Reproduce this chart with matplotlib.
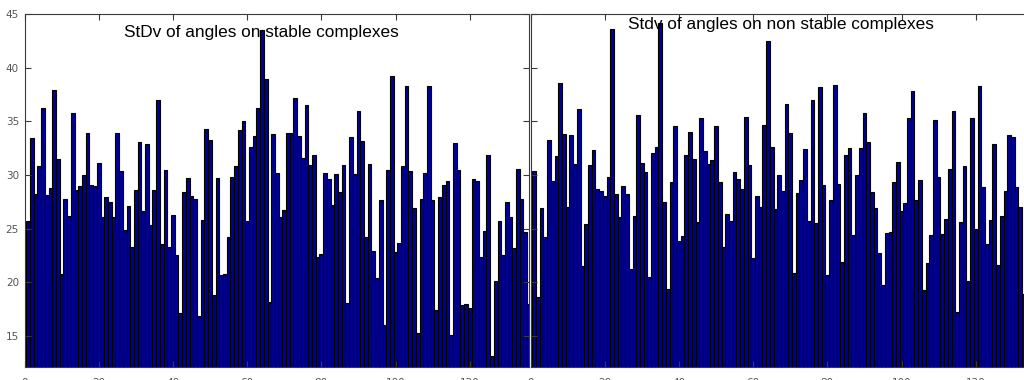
import matplotlib
matplotlib.use("Agg")
import matplotlib.pyplot as plt
import numpy as np

# Standard deviation of angles per complex
stable_std = [
    25.7, 33.4, 28.2, 30.8, 36.2, 28.1, 28.8, 37.9, 31.5, 20.8,
    27.8, 26.2, 35.8, 28.6, 29.0, 30.0, 33.9, 29.1, 29.0, 31.1,
    26.1, 27.9, 27.5, 26.1, 33.9, 30.4, 24.9, 27.1, 23.3, 28.6,
    33.1, 26.6, 32.9, 25.3, 28.6, 37.0, 23.6, 30.5, 23.3, 26.3,
    22.5, 17.1, 28.4, 29.7, 28.0, 27.8, 16.9, 25.8, 34.3, 33.3,
    18.8, 29.7, 20.7, 20.8, 24.2, 29.8, 30.8, 34.2, 35.0, 25.7,
    32.6, 33.6, 36.2, 43.5, 38.9, 18.2, 33.8, 30.2, 26.1, 26.7,
    33.9, 33.9, 37.2, 33.6, 31.6, 36.5, 30.9, 31.9, 22.4, 22.6,
    30.2, 29.6, 27.2, 30.1, 28.4, 30.9, 18.1, 33.5, 30.1, 36.0,
    33.2, 24.2, 31.0, 22.9, 20.4, 27.7, 16.0, 30.5, 39.2, 22.8,
    23.7, 30.8, 38.3, 30.4, 26.9, 15.3, 27.8, 30.2, 38.3, 27.7,
    17.4, 27.9, 29.1, 29.4, 15.1, 33.0, 30.5, 17.9, 18.0, 17.6,
    29.6, 29.4, 22.4, 24.8, 31.9, 13.1, 20.1, 25.7, 22.5, 27.5,
    26.1, 23.2, 30.6, 27.8, 24.7, 18.0,
]

nonstable_std = [
    30.4, 18.6, 26.9, 24.2, 33.3, 29.4, 31.8, 38.6, 33.8, 27.0,
    33.7, 31.0, 36.1, 21.5, 25.4, 30.9, 32.3, 28.7, 28.5, 28.0,
    29.8, 43.6, 28.2, 26.1, 29.0, 28.2, 21.2, 26.2, 35.6, 31.1,
    30.3, 20.5, 32.0, 32.6, 44.2, 27.5, 19.4, 29.3, 34.6, 23.8,
    24.3, 31.9, 34.0, 31.5, 25.6, 35.3, 32.2, 31.0, 31.4, 34.6,
    29.3, 23.3, 26.4, 25.7, 30.3, 29.6, 28.7, 35.4, 30.9, 22.3,
    28.0, 27.0, 34.7, 42.5, 32.6, 26.8, 30.0, 28.5, 36.6, 33.9,
    20.9, 28.3, 29.5, 32.4, 25.7, 37.0, 25.5, 38.2, 29.1, 20.7,
    27.7, 38.4, 29.2, 21.9, 31.9, 32.5, 24.4, 30.0, 32.5, 35.8,
    33.1, 28.4, 26.9, 22.7, 19.7, 24.6, 24.7, 29.3, 31.2, 26.6,
    27.4, 35.3, 37.8, 27.7, 29.5, 19.3, 21.8, 24.4, 35.1, 29.8,
    24.5, 25.9, 30.6, 36.0, 17.2, 25.6, 30.8, 20.1, 35.3, 25.0,
    38.3, 28.9, 23.6, 25.8, 32.9, 21.6, 26.2, 28.5, 33.7, 33.5,
    28.9, 27.0, 18.9,
]

titles = ["StDv of angles on stable complexes",
          "Stdv of angles on non stable complexes"]
x_ticks = [0, 20, 40, 60, 80, 100, 120, 140]
y_ticks = [15, 20, 25, 30, 35, 40, 45]

W, H = 1024, 380
fig = plt.figure(figsize=(W / 100, H / 100), dpi=100)
fig.patch.set_facecolor("white")

bar_face = (0.0, 0.0, 0.58)
spine_col = "#3a3a3a"
tick_col = "#555555"
px_per_unit = 3.71

ax_b, ax_t = 13.3, 366.0
# (left px, right px, data, title, title centre, y labels)
panels = [
    (24.5, 528.5, stable_std, titles[0], (261, 32), True),
    (530.5, 1035.0, nonstable_std, titles[1], (781, 25), False),
]

for left_px, right_px, data, title, (tx, ty), show_ylabels in panels:
    w_px = right_px - left_px
    ax = fig.add_axes([left_px / W, ax_b / H, w_px / W, (ax_t - ax_b) / H])
    xs = np.arange(1, len(data) + 1)
    ax.bar(xs, data, width=1.0, color=bar_face, edgecolor="black",
           linewidth=0.8, bottom=0)
    ax.set_xticks(x_ticks)
    ax.set_yticks(y_ticks)
    ax.set_xlim(0, w_px / px_per_unit)
    ax.set_ylim(12.13, 45)
    ax.tick_params(direction="in", length=4, width=0.8, colors=spine_col,
                   labelcolor=tick_col, labelsize=7.5,
                   top=True, right=show_ylabels, left=True,
                   labelleft=show_ylabels)
    ax.tick_params(axis="x", pad=8)
    ax.tick_params(axis="y", pad=4)
    for s in ax.spines.values():
        s.set_color(spine_col)
        s.set_linewidth(0.8)
    fig.text(tx / W, 1 - ty / H, title, ha="center", va="center",
             fontsize=12.4, family="Liberation Sans", color="black")

fig.savefig("out.png", dpi=100, facecolor="white")
